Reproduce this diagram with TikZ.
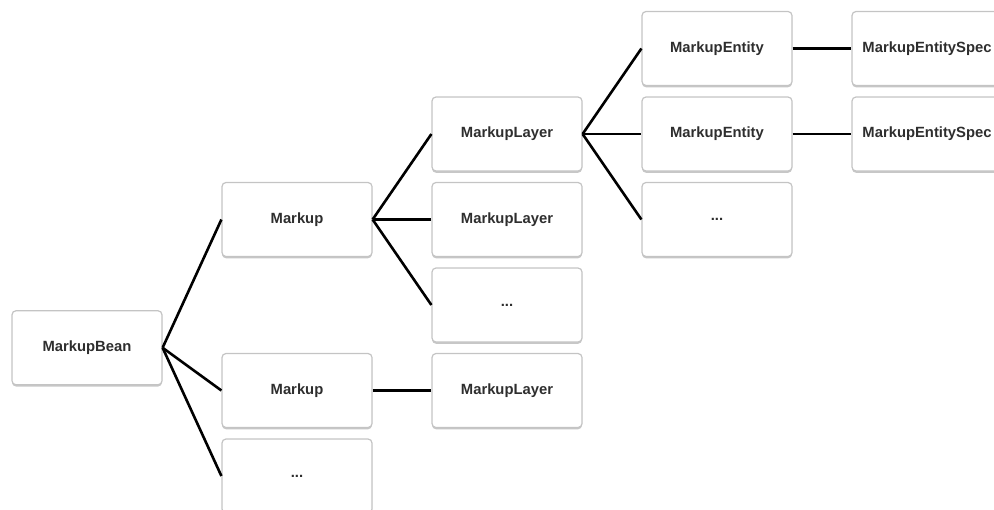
\documentclass[tikz,border=0pt]{standalone}
\usepackage{fontspec}
\setmainfont{Liberation Sans}
\usetikzlibrary{positioning,calc,shadows}
\definecolor{edge}{HTML}{C4C4C4}
\definecolor{ink}{HTML}{2E2E2E}
\tikzset{box/.style={draw=edge,fill=white,rounded corners=2pt,minimum width=75pt,minimum height=37pt,
 line width=.6pt,font=\fontsize{7.4}{9}\selectfont\bfseries,text=ink,inner sep=2pt,
 drop shadow={shadow xshift=0pt,shadow yshift=-.9pt,fill=black,opacity=.22}},link/.style={line width=1.3pt,draw=black}}
\begin{document}
\begin{tikzpicture}[node distance=5.15pt and 29.4pt]
\useasboundingbox (0,0) rectangle (497pt,-254.5pt);
\node[box] (ent1) at (358.5pt,-24.25pt) {MarkupEntity};
\node[box,below=of ent1] (ent2) {MarkupEntity};
\node[box,below=of ent2] (entdots) {...};
\node[box,right=of ent1] (spec1) {MarkupEntitySpec};
\node[box,right=of ent2] (spec2) {MarkupEntitySpec};

\node[box,left=of ent2] (layer1) {MarkupLayer};
\node[box,below=of layer1] (layer2) {MarkupLayer};
\node[box,below=of layer2] (layerdots) {...};
\node[box,below=of layerdots] (layer3) {MarkupLayer};

\node[box,left=of layer2] (markup1) {Markup};
\node[box,left=of layer3] (markup2) {Markup};
\node[box,below=of markup2] (markupdots) {...};

\coordinate (mid) at ($(markup1.west)!.5!(markupdots.west)$);
\node[box,left=of mid] (bean) {MarkupBean};

\draw[link] (bean.east) -- (markup1.west);
\draw[link] (bean.east) -- (markup2.west);
\draw[link] (bean.east) -- (markupdots.west);
\draw[link] (markup1.east) -- (layer1.west);
\draw[link] (markup1.east) -- (layer2.west);
\draw[link] (markup1.east) -- (layerdots.west);
\draw[link] (markup2.east) -- (layer3.west);
\draw[link] (layer1.east) -- (ent1.west);
\draw[link] (layer1.east) -- (ent2.west);
\draw[link] (layer1.east) -- (entdots.west);
\draw[link] (ent1.east) -- (spec1.west);
\draw[link] (ent2.east) -- (spec2.west);
\end{tikzpicture}
\end{document}
